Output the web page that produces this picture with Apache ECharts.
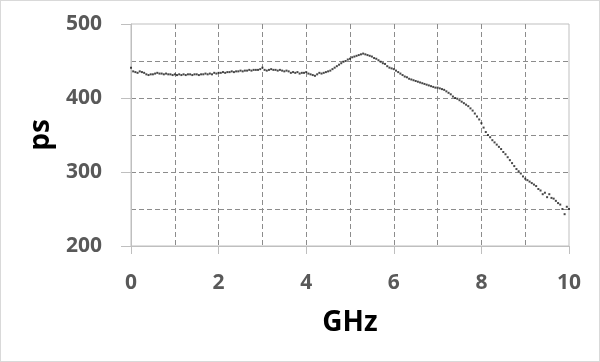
<!DOCTYPE html>
<html>
<head>
<meta charset="utf-8">
<script src="https://cdn.jsdelivr.net/npm/echarts@6/dist/echarts.min.js"></script>
<style>
html,body{margin:0;padding:0;background:#fff;}
#chart{width:600px;height:362px;box-sizing:border-box;border:1px solid #d9d9d9;}
</style>
</head>
<body>
<div id="chart"></div>
<script>
var xAxisName = 'GHz';
var yAxisName = 'ps';
var freqGHz = [
0.00,0.05,0.10,0.15,0.20,0.25,0.30,0.35,0.40,0.45,
0.50,0.55,0.60,0.65,0.70,0.75,0.80,0.85,0.90,0.95,
1.00,1.05,1.10,1.15,1.20,1.25,1.30,1.35,1.40,1.45,
1.50,1.55,1.60,1.65,1.70,1.75,1.80,1.85,1.90,1.95,
2.00,2.05,2.10,2.15,2.20,2.25,2.30,2.35,2.40,2.45,
2.50,2.55,2.60,2.65,2.70,2.75,2.80,2.85,2.90,2.95,
3.00,3.05,3.10,3.15,3.20,3.25,3.30,3.35,3.40,3.45,
3.50,3.55,3.60,3.65,3.70,3.75,3.80,3.85,3.90,3.95,
4.00,4.05,4.10,4.15,4.20,4.25,4.30,4.35,4.40,4.45,
4.50,4.55,4.60,4.65,4.70,4.75,4.80,4.85,4.90,4.95,
5.00,5.05,5.10,5.15,5.20,5.25,5.30,5.35,5.40,5.45,
5.50,5.55,5.60,5.65,5.70,5.75,5.80,5.85,5.90,5.95,
6.00,6.05,6.10,6.15,6.20,6.25,6.30,6.35,6.40,6.45,
6.50,6.55,6.60,6.65,6.70,6.75,6.80,6.85,6.90,6.95,
7.00,7.05,7.10,7.15,7.20,7.25,7.30,7.35,7.40,7.45,
7.50,7.55,7.60,7.65,7.70,7.75,7.80,7.85,7.90,7.95,
8.00,8.05,8.10,8.15,8.20,8.25,8.30,8.35,8.40,8.45,
8.50,8.55,8.60,8.65,8.70,8.75,8.80,8.85,8.90,8.95,
9.00,9.05,9.10,9.15,9.20,9.25,9.30,9.35,9.40,9.45,
9.50,9.55,9.60,9.65,9.70,9.75,9.80,9.85,9.90,9.95,
10.00
];
var delayPs = [
441,436,435,434,436,435,434,432,431,432,
432,433,434,433,433,432,433,432,432,431,
432,431,432,431,432,431,432,432,431,432,
432,431,432,432,433,432,433,432,434,433,
434,434,435,434,435,435,436,435,436,436,
437,436,437,437,438,437,438,438,438,439,
441,438,437,438,439,438,438,437,438,437,
436,437,436,434,435,434,435,433,434,434,
435,433,432,431,430,432,434,433,434,435,
436,437,439,441,443,445,447,449,450,452,
453,455,456,457,458,459,460,459,458,457,
456,454,453,451,449,447,446,443,441,440,
439,437,435,433,431,429,428,426,425,424,
423,422,421,420,419,418,417,416,415,414,
414,413,412,411,409,407,405,402,400,399,
397,395,393,391,389,386,383,379,375,371,
366,360,354,350,347,343,340,337,334,331,
327,324,320,316,312,308,304,301,298,294,
291,289,287,285,283,281,277,275,270,272,
266,270,265,264,261,258,256,250,243,253,
250
];
var xTicks = [0, 2, 4, 6, 8, 10];
var yTicks = [200, 300, 400, 500];

var points = freqGHz.map(function (f, i) { return [f, delayPs[i]]; });

var chart = echarts.init(document.getElementById('chart'), null, {renderer: 'canvas'});
var labelFont = {color: '#595959', fontSize: 21, fontWeight: 'bold', fontFamily: 'Open Sans'};
var dashed = {color: '#8c8c8c', width: 1, type: [5, 3]};
chart.setOption({
  animation: false,
  backgroundColor: '#ffffff',
  grid: {left: 130, right: 30, top: 23, bottom: 115, show: true, borderColor: '#bfbfbf', borderWidth: 1, backgroundColor: 'transparent'},
  xAxis: {
    type: 'value', min: xTicks[0], max: xTicks[xTicks.length - 1], interval: 2,
    name: xAxisName, nameLocation: 'middle', nameGap: 63,
    nameTextStyle: {color: '#000', fontSize: 28, fontWeight: 'bold', fontFamily: 'Open Sans'},
    axisLine: {show: true, lineStyle: {color: '#bfbfbf', width: 1}},
    axisTick: {show: true, length: 8, lineStyle: {color: '#bfbfbf'}},
    axisLabel: Object.assign({margin: 27}, labelFont),
    splitLine: {show: true, showMinLine: false, showMaxLine: false, lineStyle: dashed},
    minorTick: {show: false, splitNumber: 2},
    minorSplitLine: {show: true, lineStyle: dashed}
  },
  yAxis: {
    type: 'value', min: yTicks[0], max: yTicks[yTicks.length - 1], interval: 100,
    name: yAxisName, nameLocation: 'middle', nameGap: 74, nameRotate: 90,
    nameTextStyle: {color: '#000', fontSize: 28, fontWeight: 'bold', fontFamily: 'Open Sans'},
    axisLine: {show: true, lineStyle: {color: '#bfbfbf', width: 1}},
    axisTick: {show: true, length: 10, lineStyle: {color: '#bfbfbf'}},
    axisLabel: Object.assign({margin: 29}, labelFont),
    splitLine: {show: true, showMinLine: false, showMaxLine: false, lineStyle: dashed},
    minorTick: {show: false, splitNumber: 2},
    minorSplitLine: {show: true, lineStyle: dashed}
  },
  series: [{
    type: 'scatter',
    data: points,
    symbol: 'rect',
    symbolSize: 2,
    itemStyle: {color: '#1a1a1a'}
  }]
});
</script>
</body>
</html>
